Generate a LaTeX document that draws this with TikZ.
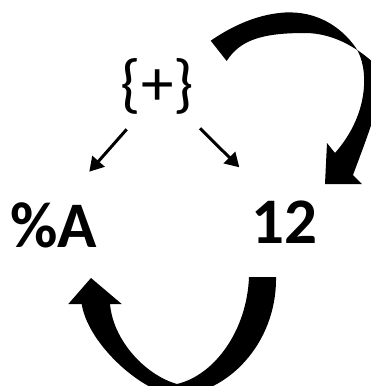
\documentclass[tikz,border=0pt]{standalone}
\usepackage{fontspec}
\setmainfont{Carlito}
\usetikzlibrary{arrows.meta}
\begin{document}
\begin{tikzpicture}[x=1pt,y=-1pt,
  lbl/.style={inner sep=0pt, anchor=base, font=\fontsize{65}{78}\selectfont},
  boldlbl/.style={lbl, font=\fontsize{65}{78}\selectfont\bfseries},
  conn/.style={line width=3pt, -{Triangle[length=14pt,width=16pt]}},
  band/.style={fill=black}]
\useasboundingbox (0,0) rectangle (371,386);

% labels
\node[lbl] (pl) at (157.5,105) {\{+\}};
\node[boldlbl] (pa) at (54,247) {\%A};
\node[boldlbl] (tw) at (284,243) {12};

% thin connectors from the operator to its operands
\draw[conn] ([shift={(-30.8,24.3)}]pl.base) -- ([shift={(35.3,-75.3)}]pa.base);
\draw[conn] ([shift={(42.5,23.3)}]pl.base) -- ([shift={(-44.7,-75.7)}]tw.base);

\begin{scope}
\clip (0,0) rectangle (371,386);
% twisted curved arrow from the top into 12
\fill[band] (210.7,40.7) .. controls (235,24) and (260,14) .. (285,12.5)
  .. controls (315,11) and (340,25) .. (356,48)
  .. controls (368,66) and (371,112) .. (335,153)
  -- (327,143) -- (325,184) -- (362,184) -- (353,175)
  .. controls (366,140) and (376,115) .. (380,90)
  -- (390,80)
  .. controls (365,50) and (335,33) .. (305,33)
  .. controls (262,33) and (240,40) .. (226.7,61) -- cycle;
% curved arrow from 12 back up to %A
\fill[band] (276,277) .. controls (277,345) and (225,395) .. (177,395)
  .. controls (145,395) and (88,345) .. (81.7,304)
  -- (68.3,304) -- (91,278) -- (121.7,304) -- (110,304)
  .. controls (113,340) and (145,375) .. (177,384)
  .. controls (215,375) and (247,330) .. (249,277) -- cycle;
\end{scope}
\end{tikzpicture}
\end{document}
